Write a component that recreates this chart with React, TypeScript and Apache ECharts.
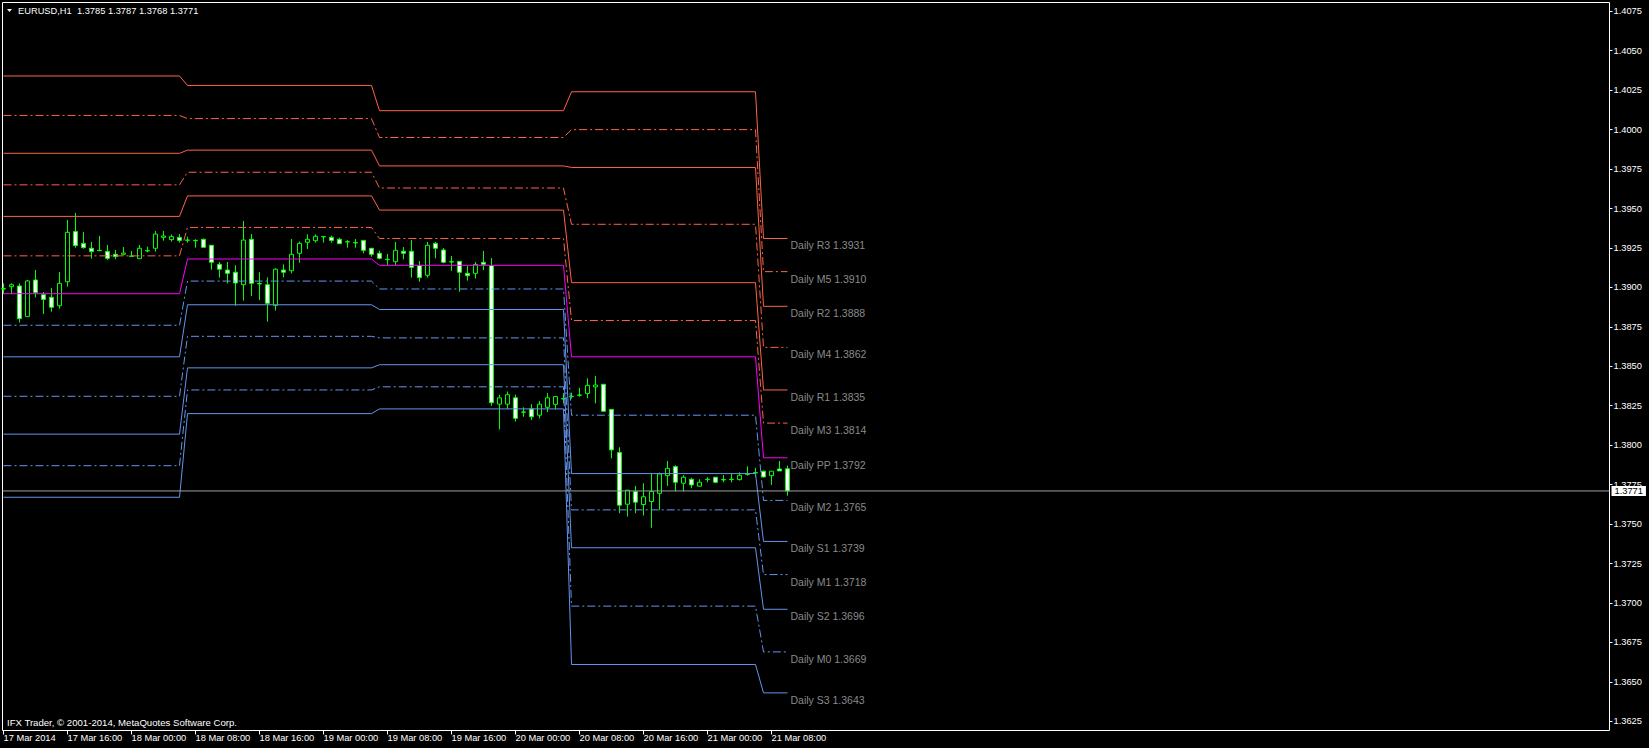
import React, { useEffect, useRef } from 'react';
import * as echarts from 'echarts';

const symbolTitle = 'EURUSD,H1';
const copyrightText = 'IFX Trader, © 2001-2014, MetaQuotes Software Corp.';

// time axis: bar index (hourly bars from 17 Mar 2014 08:00) and label
const timeTickBars = [0, 8, 16, 24, 32, 40, 48, 56, 64, 72, 80, 88, 96];
const timeTickLabels = [
  '17 Mar 2014', '17 Mar 16:00', '18 Mar 00:00', '18 Mar 08:00', '18 Mar 16:00',
  '19 Mar 00:00', '19 Mar 08:00', '19 Mar 16:00', '20 Mar 00:00', '20 Mar 08:00',
  '20 Mar 16:00', '21 Mar 00:00', '21 Mar 08:00',
];

const priceTicks = [
  1.3625, 1.365, 1.3675, 1.37, 1.3725, 1.375, 1.3775, 1.38, 1.3825, 1.385,
  1.3875, 1.39, 1.3925, 1.395, 1.3975, 1.4, 1.4025, 1.405, 1.4075,
];

// hourly candles
const opens = [
  1.38992, 1.39005, 1.39009, 1.38815, 1.39047, 1.38954, 1.38937, 1.38884, 1.39036, 1.39355,
  1.39279, 1.39248, 1.39235, 1.39227, 1.39210, 1.39210, 1.39199, 1.39182, 1.39233, 1.39248,
  1.39317, 1.39303, 1.39317, 1.39300, 1.39298, 1.39305, 1.39267, 1.39146, 1.39110, 1.39096,
  1.39017, 1.39305, 1.39024, 1.39017, 1.38886, 1.39110, 1.39106, 1.39216, 1.39286, 1.39296,
  1.39322, 1.39317, 1.39305, 1.39290, 1.39284, 1.39298, 1.39248, 1.39216, 1.39178, 1.39163,
  1.39229, 1.39229, 1.39138, 1.39077, 1.39279, 1.39237, 1.39163, 1.39165, 1.39089, 1.39089,
  1.39159, 1.39138, 1.38260, 1.38260, 1.38300, 1.38210, 1.38230, 1.38190, 1.38240, 1.38259,
  1.38295, 1.38310, 1.38318, 1.38327, 1.38369, 1.38386, 1.38227, 1.37953, 1.37626, 1.37706,
  1.37624, 1.37643, 1.37695, 1.37807, 1.37864, 1.37759, 1.37784, 1.37740, 1.37784, 1.37797,
  1.37782, 1.37784, 1.37782, 1.37818, 1.37826, 1.37835, 1.37807, 1.37849, 1.3785,
];
const closes = [
  1.38990, 1.39017, 1.38802, 1.39041, 1.38967, 1.38924, 1.38874, 1.39026, 1.39349, 1.39265,
  1.39252, 1.39227, 1.39233, 1.39184, 1.39195, 1.39218, 1.39197, 1.39248, 1.39231, 1.39338,
  1.39326, 1.39322, 1.39298, 1.39299, 1.39296, 1.39254, 1.39159, 1.39115, 1.39089, 1.39028,
  1.39300, 1.39026, 1.39022, 1.38899, 1.39115, 1.39096, 1.39210, 1.39279, 1.39305, 1.39324,
  1.39321, 1.39298, 1.39277, 1.39288, 1.39282, 1.39235, 1.39210, 1.39184, 1.39176, 1.39235,
  1.39216, 1.39127, 1.39062, 1.39267, 1.39248, 1.39159, 1.39161, 1.39096, 1.39074, 1.39146,
  1.39146, 1.38269, 1.38300, 1.38320, 1.38170, 1.38209, 1.38180, 1.38260, 1.38300, 1.38308,
  1.38293, 1.38308, 1.38317, 1.38379, 1.38381, 1.38215, 1.37970, 1.37620, 1.37715, 1.37639,
  1.37673, 1.37706, 1.37818, 1.37853, 1.37765, 1.37797, 1.37748, 1.37765, 1.37782, 1.37765,
  1.37780, 1.37783, 1.37809, 1.37816, 1.37824, 1.37799, 1.37835, 1.37837, 1.3771,
];
const lows = [
  1.38958, 1.38958, 1.38777, 1.38815, 1.38937, 1.38832, 1.38846, 1.38865, 1.39005, 1.39252,
  1.39246, 1.39182, 1.39233, 1.39174, 1.39178, 1.39203, 1.39195, 1.39182, 1.39222, 1.39227,
  1.39296, 1.39290, 1.39284, 1.39284, 1.39252, 1.39254, 1.39112, 1.39062, 1.39026, 1.38884,
  1.38916, 1.38946, 1.38920, 1.38783, 1.38853, 1.39064, 1.39089, 1.39157, 1.39243, 1.39284,
  1.39284, 1.39284, 1.39277, 1.39252, 1.39252, 1.39216, 1.39195, 1.39178, 1.39142, 1.39142,
  1.39178, 1.39062, 1.39036, 1.39062, 1.39184, 1.39153, 1.39106, 1.38973, 1.39043, 1.39056,
  1.39110, 1.38250, 1.38100, 1.38230, 1.38150, 1.38180, 1.38160, 1.38170, 1.38210, 1.38227,
  1.38265, 1.38295, 1.38307, 1.38297, 1.38265, 1.38215, 1.37917, 1.37569, 1.37548, 1.37569,
  1.37554, 1.37477, 1.37590, 1.37742, 1.37708, 1.37708, 1.37727, 1.37738, 1.37765, 1.37759,
  1.37765, 1.37765, 1.37776, 1.37807, 1.37801, 1.37794, 1.37748, 1.37837, 1.3768,
];
const highs = [
  1.39026, 1.39026, 1.39026, 1.39047, 1.39110, 1.38971, 1.38996, 1.39098, 1.39427, 1.39472,
  1.39351, 1.39288, 1.39326, 1.39269, 1.39237, 1.39256, 1.39231, 1.39269, 1.39258, 1.39358,
  1.39358, 1.39336, 1.39338, 1.39322, 1.39305, 1.39309, 1.39267, 1.39161, 1.39161, 1.39140,
  1.39421, 1.39338, 1.39096, 1.39064, 1.39121, 1.39146, 1.39307, 1.39290, 1.39336, 1.39336,
  1.39326, 1.39328, 1.39315, 1.39300, 1.39307, 1.39298, 1.39248, 1.39233, 1.39212, 1.39288,
  1.39256, 1.39300, 1.39167, 1.39288, 1.39288, 1.39250, 1.39199, 1.39165, 1.39136, 1.39161,
  1.39231, 1.39186, 1.38320, 1.38340, 1.38320, 1.38240, 1.38260, 1.38280, 1.38330, 1.38308,
  1.38328, 1.38333, 1.38364, 1.38424, 1.38438, 1.38386, 1.38227, 1.37987, 1.37715, 1.37742,
  1.37759, 1.37818, 1.37826, 1.37900, 1.37873, 1.37810, 1.37793, 1.37784, 1.37797, 1.37797,
  1.37811, 1.37818, 1.37828, 1.37866, 1.37856, 1.37839, 1.37835, 1.37900, 1.3787,
];

// daily pivot periods (bar indexes)
const dayStartBars = [0, 23, 47, 71, 95];
const dayEndBars = [22, 46, 70, 94, 98];

const levelNames = ['R3', 'M5', 'R2', 'M4', 'R1', 'M3', 'PP', 'M2', 'S1', 'M1', 'S2', 'M0', 'S3'];
const R3 = [1.4034, 1.4028, 1.4012, 1.4024, 1.3931];
const M5 = [1.4009, 1.4007, 1.3995, 1.4000, 1.3910];
const R2 = [1.3985, 1.3987, 1.3977, 1.3976, 1.3888];
const M4 = [1.3965, 1.3973, 1.3963, 1.3940, 1.3862];
const R1 = [1.3945, 1.3958, 1.3949, 1.3903, 1.3835];
const M3 = [1.3920, 1.3938, 1.3931, 1.3879, 1.3814];
const PP = [1.3896, 1.3918, 1.3914, 1.3856, 1.3792];
const M2 = [1.3876, 1.3904, 1.3899, 1.3819, 1.3765];
const S1 = [1.3856, 1.3889, 1.3886, 1.3782, 1.3739];
const M1 = [1.3831, 1.3869, 1.3868, 1.3759, 1.3718];
const S2 = [1.3807, 1.3849, 1.3851, 1.3735, 1.3696];
const M0 = [1.3787, 1.3835, 1.3837, 1.3698, 1.3669];
const S3 = [1.3767, 1.3820, 1.3823, 1.3661, 1.3643];
const levelValues = [R3, M5, R2, M4, R1, M3, PP, M2, S1, M1, S2, M0, S3];

const FONT = 'Liberation Sans';

export default function App() {
  const ref = useRef<HTMLDivElement>(null);

  useEffect(() => {
    if (!ref.current) return;
    const chart = echarts.init(ref.current, null, { renderer: 'svg' });

    const gridLeft = 2.5;
    const gridTop = 2.5;
    const gridW = 1607;
    const gridH = 728;
    const barPx = 8;
    const firstBarPx = 3.5;
    const xMin = (gridLeft - firstBarPx) / barPx;
    const xMax = (gridLeft + gridW - firstBarPx) / barPx;
    const yMax = 1.408057;
    const yMin = 1.361917;

    const last = opens.length - 1;
    const lastClose = closes[last];
    const candleData = opens.map((o, i) => [i, o, closes[i], lows[i], highs[i]]);

    const upperM = ['M3', 'M4', 'M5'];
    const lineSeries = levelNames.map((name, i) => {
      const vals = levelValues[i];
      const data: number[][] = [];
      vals.forEach((v, d) => {
        data.push([dayStartBars[d], v]);
        data.push([dayEndBars[d], v]);
      });
      const color = name === 'PP' ? '#ff00ff' : (name.startsWith('R') || upperM.includes(name)) ? '#ff6347' : '#6495ed';
      return {
        type: 'line',
        name,
        data,
        symbol: 'none',
        silent: true,
        z: 3,
        lineStyle: { color, width: 1, type: name.startsWith('M') ? [8, 3, 2, 3] : 'solid' },
        endLabel: {
          show: true,
          formatter: () => `Daily ${name} ${vals[vals.length - 1].toFixed(4)}`,
          color: '#8a8a8a',
          fontSize: 10.5,
          fontFamily: FONT,
          distance: 3,
          offset: [0, 7],
        },
      };
    });

    const priceLine = {
      type: 'line',
      name: 'bid',
      data: [[xMin, lastClose], [xMax, lastClose]],
      symbol: 'none',
      silent: true,
      clip: false,
      z: 4,
      lineStyle: { color: '#9aa0a6', width: 1, type: 'solid' },
      endLabel: {
        show: true,
        formatter: () => lastClose.toFixed(4),
        backgroundColor: '#ffffff',
        color: '#000000',
        padding: [1, 3, 0, 3],
        fontSize: 9.3,
        fontFamily: FONT,
        distance: 2,
      },
    };

    const title = `${symbolTitle}  ${opens[last].toFixed(4)} ${highs[last].toFixed(4)} ${lows[last].toFixed(4)} ${closes[last].toFixed(4)}`;

    chart.setOption({
      animation: false,
      backgroundColor: '#000000',
      grid: {
        left: gridLeft, top: gridTop, width: gridW, height: gridH,
        show: true, borderColor: '#ffffff', borderWidth: 1, backgroundColor: '#000000',
      },
      xAxis: {
        type: 'value',
        min: xMin,
        max: xMax,
        axisLine: { show: false, onZero: false },
        splitLine: { show: false },
        axisTick: { show: true, customValues: timeTickBars, length: 4, lineStyle: { color: '#ffffff' } },
        axisLabel: {
          show: true,
          customValues: timeTickBars,
          formatter: (v: number) => timeTickLabels[timeTickBars.indexOf(Math.round(v))] ?? '',
          color: '#ffffff',
          fontSize: 9.3,
          fontFamily: FONT,
          align: 'left',
          margin: 3,
        },
      },
      yAxis: {
        type: 'value',
        position: 'right',
        min: yMin,
        max: yMax,
        axisLine: { show: false, onZero: false },
        splitLine: { show: false },
        axisTick: { show: true, customValues: priceTicks, length: 3, lineStyle: { color: '#ffffff' } },
        axisLabel: {
          show: true,
          customValues: priceTicks,
          formatter: (v: number) => v.toFixed(4),
          color: '#ffffff',
          fontSize: 9.3,
          fontFamily: FONT,
          margin: 4,
        },
      },
      series: [
        {
          type: 'candlestick',
          data: candleData,
          barWidth: 4,
          z: 2,
          silent: true,
          itemStyle: {
            color: '#000000',
            color0: '#ffffff',
            borderColor: '#00ff00',
            borderColor0: '#00ff00',
            borderColorDoji: '#00ff00',
            borderWidth: 1,
          },
        },
        ...lineSeries,
        priceLine,
      ],
      graphic: [
        { type: 'polygon', shape: { points: [[7, 9], [12, 9], [9.5, 12]] }, style: { fill: '#ffffff' }, z: 10 },
        { type: 'text', x: 18, y: 11, z: 10, style: { text: title, fill: '#ffffff', fontSize: 9.3, fontFamily: FONT, verticalAlign: 'middle' } },
        { type: 'text', x: 7, y: 722.5, z: 10, style: { text: copyrightText, fill: '#ffffff', fontSize: 9.6, fontFamily: FONT, verticalAlign: 'middle' } },
      ],
    });

    return () => chart.dispose();
  }, []);

  return (
    <div
      ref={ref}
      style={{ position: 'fixed', left: 0, top: 0, width: 1649, height: 748, background: '#000000' }}
    />
  );
}
